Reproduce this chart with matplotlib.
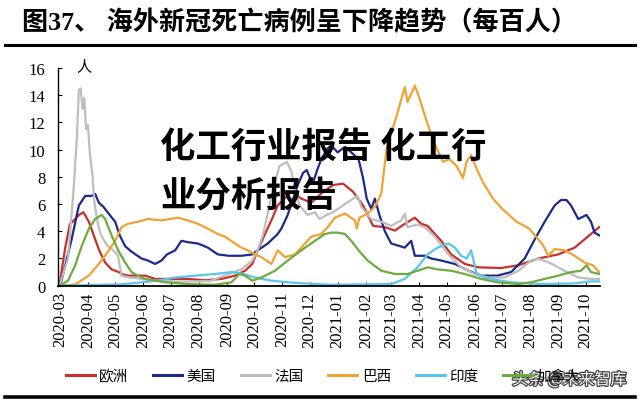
import matplotlib
matplotlib.use('Agg')
import matplotlib.pyplot as plt
import matplotlib.dates as mdates
import matplotlib.patheffects as pe
import pandas as pd

plt.rcParams['font.family'] = ['Liberation Serif', 'Noto Sans CJK SC', 'DejaVu Sans']

# ---- data (deaths per 1m, 7-day avg) ----
eu_dates = ['2020-03-01', '2020-03-07', '2020-03-12', '2020-03-18', '2020-03-22', '2020-03-27',
            '2020-04-02', '2020-04-09', '2020-04-14', '2020-04-20', '2020-04-27', '2020-05-05',
            '2020-05-08', '2020-05-15', '2020-06-03', '2020-06-14', '2020-07-02', '2020-07-20',
            '2020-08-08', '2020-08-26', '2020-09-10', '2020-09-21', '2020-09-29', '2020-10-05',
            '2020-10-13', '2020-10-20', '2020-10-27', '2020-11-11', '2020-11-22', '2020-12-03',
            '2020-12-16', '2020-12-27', '2021-01-07', '2021-01-18', '2021-01-29', '2021-02-09',
            '2021-02-22', '2021-03-05', '2021-03-16', '2021-03-27', '2021-04-03', '2021-04-10',
            '2021-04-25', '2021-05-06', '2021-05-21', '2021-06-05', '2021-06-30', '2021-07-19',
            '2021-08-10', '2021-09-01', '2021-09-19', '2021-10-07', '2021-10-16']
eu_vals = [0.2, 2.8, 4.5, 4.9, 5.2, 5.4,
           4.7, 3.4, 2.5, 1.7, 1.2, 1.0,
           0.86, 0.74, 0.74, 0.5, 0.5, 0.5,
           0.4, 0.5, 0.74, 1.1, 1.6, 2.6,
           3.8, 4.8, 5.9, 6.9, 6.4, 6.1,
           6.9, 7.4, 7.5, 6.9, 5.9, 4.4,
           4.3, 4.05, 4.55, 5.0, 4.55, 4.4,
           3.3, 2.3, 1.6, 1.35, 1.3, 1.5,
           2.0, 2.3, 2.8, 3.8, 4.3]

us_dates = ['2020-03-01', '2020-03-03', '2020-03-14', '2020-03-22', '2020-03-29', '2020-04-05',
            '2020-04-09', '2020-04-13', '2020-04-18', '2020-04-25', '2020-05-01', '2020-05-06',
            '2020-05-12', '2020-05-19', '2020-05-30', '2020-06-06', '2020-06-14', '2020-06-21',
            '2020-06-27', '2020-07-06', '2020-07-13', '2020-07-20', '2020-07-31', '2020-08-11',
            '2020-08-22', '2020-09-03', '2020-09-17', '2020-09-29', '2020-10-05', '2020-10-16',
            '2020-10-27', '2020-10-31', '2020-11-07', '2020-11-13', '2020-11-18', '2020-11-24',
            '2020-11-28', '2020-12-01', '2020-12-05', '2020-12-10', '2020-12-14', '2020-12-21',
            '2020-12-25', '2021-01-01', '2021-01-09', '2021-01-16', '2021-01-24', '2021-01-29',
            '2021-02-02', '2021-02-07', '2021-02-11', '2021-02-16', '2021-02-22', '2021-03-01',
            '2021-03-16', '2021-03-23', '2021-03-27', '2021-04-07', '2021-04-14', '2021-04-25',
            '2021-05-10', '2021-05-25', '2021-06-08', '2021-06-26', '2021-07-11', '2021-07-26',
            '2021-08-06', '2021-08-17', '2021-08-28', '2021-09-04', '2021-09-10', '2021-09-15',
            '2021-09-23', '2021-10-02', '2021-10-07', '2021-10-11', '2021-10-16']
us_vals = [0.0, 0.4, 3.4, 5.9, 6.6, 6.6,
           6.75, 6.1, 5.8, 5.2, 4.7, 3.7,
           2.9, 2.5, 2.0, 1.85, 1.6, 1.85,
           2.3, 2.6, 3.3, 3.2, 3.1, 2.8,
           2.3, 2.2, 2.2, 2.3, 2.6, 3.1,
           3.8, 4.2, 5.2, 6.4, 7.4, 8.3,
           8.5, 8.0, 7.6, 8.6, 9.3, 10.1,
           10.3, 9.8, 10.2, 9.8, 9.3, 7.9,
           6.4, 5.65, 6.4, 5.2, 4.0, 3.1,
           2.8, 3.3, 2.2, 2.2, 2.0, 1.85,
           1.6, 1.1, 0.74, 0.74, 1.0, 2.0,
           3.4, 4.7, 5.9, 6.3, 6.3, 5.9,
           4.9, 5.2, 4.7, 3.9, 3.7]

fr_dates = ['2020-03-01', '2020-03-02', '2020-03-10', '2020-03-16', '2020-03-20', '2020-03-22',
            '2020-03-24', '2020-03-26', '2020-03-28', '2020-03-30', '2020-04-01', '2020-04-03',
            '2020-04-06', '2020-04-08', '2020-04-11', '2020-04-14', '2020-04-18', '2020-04-23',
            '2020-04-29', '2020-05-04', '2020-05-08', '2020-05-17', '2020-05-25', '2020-06-08',
            '2020-07-11', '2020-08-14', '2020-09-03', '2020-09-17', '2020-09-29', '2020-10-05',
            '2020-10-11', '2020-10-16', '2020-10-21', '2020-10-29', '2020-11-06', '2020-11-11',
            '2020-11-15', '2020-11-20', '2020-11-29', '2020-12-07', '2020-12-12', '2020-12-20',
            '2020-12-27', '2021-01-09', '2021-01-20', '2021-01-23', '2021-01-27', '2021-02-07',
            '2021-02-18', '2021-03-01', '2021-03-12', '2021-03-16', '2021-03-19', '2021-03-30',
            '2021-04-07', '2021-04-18', '2021-05-03', '2021-05-17', '2021-06-01', '2021-06-16',
            '2021-07-04', '2021-07-19', '2021-08-02', '2021-08-10', '2021-08-25', '2021-09-08',
            '2021-09-23', '2021-10-07', '2021-10-16']
fr_vals = [0.0, 0.3, 2.0, 6.9, 11.1, 14.4,
           14.5, 13.0, 13.8, 11.5, 11.8, 9.8,
           8.1, 6.2, 4.9, 3.95, 3.4, 2.9,
           2.6, 2.2, 0.74, 0.6, 0.55, 0.4,
           0.3, 0.35, 0.86, 1.2, 1.85, 2.6,
           3.8, 5.3, 6.9, 8.8, 9.1, 8.4,
           7.1, 5.9, 5.2, 5.4, 4.9, 5.2,
           5.4, 6.0, 6.5, 6.6, 5.8, 4.9,
           4.7, 4.4, 4.8, 5.3, 4.3, 4.5,
           4.3, 3.6, 2.3, 1.35, 0.86, 0.6,
           0.6, 1.1, 1.85, 2.0, 1.6, 1.1,
           0.6, 0.5, 0.5]

br_dates = ['2020-03-01', '2020-03-18', '2020-04-02', '2020-04-13', '2020-04-24', '2020-05-01',
            '2020-05-08', '2020-05-15', '2020-05-26', '2020-06-06', '2020-06-21', '2020-07-09',
            '2020-07-20', '2020-07-31', '2020-08-11', '2020-08-22', '2020-08-30', '2020-09-10',
            '2020-09-17', '2020-09-24', '2020-10-02', '2020-10-09', '2020-10-20', '2020-10-27',
            '2020-11-04', '2020-11-15', '2020-11-26', '2020-12-03', '2020-12-14', '2020-12-21',
            '2020-12-29', '2021-01-09', '2021-01-20', '2021-01-22', '2021-01-25', '2021-02-03',
            '2021-02-11', '2021-02-18', '2021-02-24', '2021-03-07', '2021-03-16', '2021-03-19',
            '2021-03-27', '2021-04-01', '2021-04-07', '2021-04-12', '2021-04-20', '2021-04-27',
            '2021-05-04', '2021-05-12', '2021-05-19', '2021-05-23', '2021-05-28', '2021-06-03',
            '2021-06-10', '2021-06-21', '2021-07-02', '2021-07-17', '2021-07-31', '2021-08-15',
            '2021-08-21', '2021-08-28', '2021-09-08', '2021-09-19', '2021-09-30', '2021-10-09',
            '2021-10-16']
br_vals = [0.0, 0.1, 0.74, 1.6, 2.6, 3.3,
           4.3, 4.55, 4.7, 4.9, 4.8, 5.0,
           4.8, 4.55, 4.2, 3.8, 3.6, 3.1,
           2.8, 2.6, 2.3, 2.1, 1.6, 2.6,
           2.1, 2.3, 3.1, 3.6, 3.8, 4.3,
           5.0, 5.3, 4.8, 4.2, 5.0, 5.3,
           5.8, 6.75, 10.1, 12.5, 14.6, 13.5,
           14.7, 13.8, 12.5, 11.5, 10.1, 9.1,
           9.3, 8.8, 7.9, 9.1, 9.6, 8.6,
           7.6, 6.4, 5.6, 4.7, 4.2, 3.0,
           2.2, 2.7, 2.6, 2.2, 1.7, 1.5,
           1.0]

in_dates = ['2020-03-01', '2020-05-08', '2020-05-30', '2020-06-14', '2020-07-06', '2020-07-28',
            '2020-08-19', '2020-09-06', '2020-09-17', '2020-10-02', '2020-10-20', '2020-11-07',
            '2020-12-07', '2020-12-25', '2021-03-01', '2021-03-16', '2021-03-30', '2021-04-10',
            '2021-04-21', '2021-05-03', '2021-05-10', '2021-05-17', '2021-05-23', '2021-05-28',
            '2021-06-03', '2021-06-12', '2021-06-30', '2021-07-11', '2021-08-13', '2021-09-19',
            '2021-10-07', '2021-10-16']
in_vals = [0.0, 0.1, 0.25, 0.35, 0.6, 0.74,
           0.86, 1.0, 0.9, 0.6, 0.37, 0.25,
           0.12, 0.07, 0.12, 0.5, 1.35, 2.3,
           2.8, 3.1, 2.8, 2.2, 2.0, 2.6,
           0.9, 0.6, 0.37, 0.25, 0.12, 0.17,
           0.32, 0.32]

ca_dates = ['2020-03-01', '2020-03-10', '2020-03-18', '2020-03-25', '2020-04-02', '2020-04-09',
            '2020-04-16', '2020-04-20', '2020-04-24', '2020-04-29', '2020-05-05', '2020-05-12',
            '2020-05-19', '2020-05-26', '2020-06-03', '2020-06-25', '2020-07-20', '2020-08-19',
            '2020-09-06', '2020-09-15', '2020-09-21', '2020-09-29', '2020-10-09', '2020-10-24',
            '2020-11-07', '2020-11-22', '2020-12-07', '2020-12-18', '2020-12-25', '2021-01-01',
            '2021-01-09', '2021-01-16', '2021-01-24', '2021-02-03', '2021-02-18', '2021-03-05',
            '2021-03-19', '2021-03-30', '2021-04-10', '2021-04-21', '2021-05-06', '2021-05-21',
            '2021-06-08', '2021-06-26', '2021-07-19', '2021-08-02', '2021-08-17', '2021-09-01',
            '2021-09-15', '2021-09-26', '2021-10-02', '2021-10-07', '2021-10-16']
ca_vals = [0.0, 0.37, 1.5, 2.9, 4.2, 4.9,
           5.2, 4.9, 4.2, 3.4, 2.5, 1.7,
           1.0, 0.74, 0.5, 0.25, 0.12, 0.07,
           0.25, 0.86, 0.74, 0.37, 0.6, 1.1,
           1.85, 2.6, 3.3, 3.8, 3.9, 3.9,
           3.8, 3.3, 2.6, 1.85, 1.1, 0.86,
           0.86, 1.1, 1.35, 1.2, 1.1, 0.86,
           0.5, 0.25, 0.12, 0.25, 0.5, 0.74,
           1.0, 1.1, 1.5, 1.0, 0.86]

names = ['欧洲', '美国', '法国', '巴西', '印度', '加拿大']
colors = ['#C9302C', '#1C2A8C', '#BEBEBE', '#F0A235', '#5BC5EA', '#6DAB3F']
series = [(eu_dates, eu_vals), (us_dates, us_vals), (fr_dates, fr_vals),
          (br_dates, br_vals), (in_dates, in_vals), (ca_dates, ca_vals)]

fig = plt.figure(figsize=(6.4, 4.02), dpi=100)
ax = fig.add_axes([0.0906, 0.2868, 0.847, 0.5416])

for (d, v), name, c in zip(series, names, colors):
    ax.plot(pd.to_datetime(d), v, color=c, lw=1.6, label=name)

ax.set_xlim(pd.Timestamp('2020-02-28'), pd.Timestamp('2021-10-17'))
ax.set_ylim(0, 16)
ax.set_yticks(range(0, 17, 2))
ax.xaxis.set_major_locator(mdates.MonthLocator())
ax.xaxis.set_major_formatter(mdates.DateFormatter('%Y-%m'))
ax.tick_params(axis='x', direction='in', length=3, labelsize=12, labelrotation=90, pad=4)
ax.tick_params(axis='y', direction='in', length=3, labelsize=12, pad=9)
for s in ['top', 'right']:
    ax.spines[s].set_visible(False)
ax.spines['left'].set_linewidth(1.0)
ax.spines['bottom'].set_linewidth(1.3)

ax.text(0.048, 1.01, '人', transform=ax.transAxes, fontsize=11,
        family=['Noto Sans CJK SC'], ha='center', va='center')

# header
fig.text(0.034, 1 - 23 / 402, '图37、 海外新冠死亡病例呈下降趋势（每百人）', fontsize=18.8,
         fontweight='bold', va='center', ha='left')
fig.add_artist(plt.Line2D([0.008, 0.992], [1 - 46 / 402] * 2, color='black', lw=2.2))
fig.add_artist(plt.Line2D([0.008, 0.992], [1 - 398 / 402] * 2, color='black', lw=2.6))

leg = fig.legend(loc='center', bbox_to_anchor=(0.505, 1 - 377 / 402), ncol=6, frameon=False,
                 handlelength=2.0, columnspacing=1.7, handletextpad=0.3,
                 prop={'family': ['Noto Sans CJK SC'], 'size': 10.5})
for line in leg.get_lines():
    line.set_linewidth(2.2)

# overlay caption text on the image
fig.text(160 / 640, 1 - 147 / 402, '化工行业报告 化工行', fontsize=25.5, fontweight='heavy',
         family=['Noto Sans CJK SC'], color='black', va='center', ha='left')
fig.text(160 / 640, 1 - 196 / 402, '业分析报告', fontsize=25.5, fontweight='heavy',
         family=['Noto Sans CJK SC'], color='black', va='center', ha='left')

# watermark
fig.text(512 / 640, 1 - 381 / 402, '头条 @未来智库', fontsize=11.5, color='white',
         family=['Noto Sans CJK SC'], va='center', ha='left',
         path_effects=[pe.withStroke(linewidth=1.8, foreground='#444444')])

fig.savefig('out.png', dpi=100)
